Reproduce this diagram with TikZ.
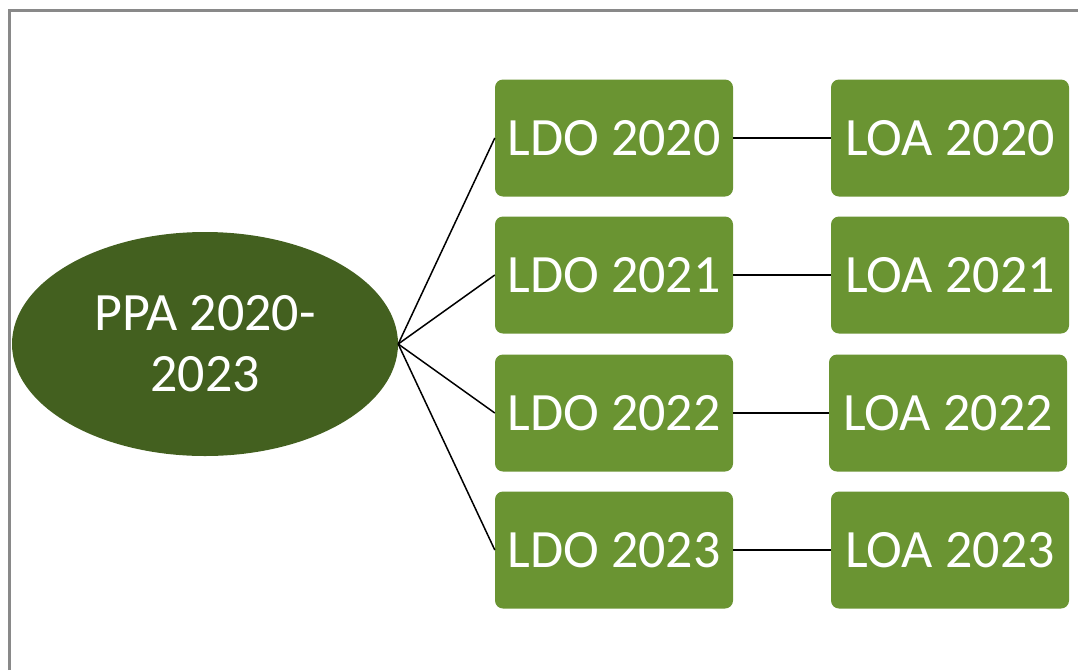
\documentclass[tikz,border=0pt]{standalone}
\usepackage{fontspec}
\setmainfont{Carlito}
\usetikzlibrary{shapes.geometric}

\definecolor{boxgreen}{HTML}{6A9432}
\definecolor{hubgreen}{HTML}{43601F}
\definecolor{framegray}{HTML}{898989}

\begin{document}
\begin{tikzpicture}[x=1pt, y=-1pt,
    year/.style={fill=boxgreen, rounded corners=8pt, minimum width=238pt, minimum height=117pt,
        inner sep=0pt, text=white, font=\fontsize{54}{61}\selectfont},
    hub/.style={ellipse, fill=hubgreen, minimum width=386pt, minimum height=224pt,
        inner sep=0pt, align=center, text=white, font=\fontsize{54}{61}\selectfont},
    link/.style={black, line width=1.5pt}]
    \useasboundingbox (0,0) rectangle (1078,670);

    % ===== frame =====
    \draw[framegray, line width=3pt] (9.5,670) -- (9.5,10.5) -- (1078,10.5);

    % ===== plan =====
    \node[hub] (ppa) at (205,344) {PPA 2020-\\2023};

    % ===== LDO column =====
    \def\xL{614}
    \node[year] (ldo20) at (\xL,138) {LDO 2020};
    \node[year] (ldo21) at (\xL,275) {LDO 2021};
    \node[year] (ldo22) at (\xL,413) {LDO 2022};
    \node[year] (ldo23) at (\xL,550) {LDO 2023};

    % ===== LOA column =====
    \def\xR{950}
    \node[year] (loa20) at (\xR,138) {LOA 2020};
    \node[year] (loa21) at (\xR,275) {LOA 2021};
    \node[year] (loa22) at (\xR-2,413) {LOA 2022};
    \node[year] (loa23) at (\xR,550) {LOA 2023};

    % ===== links =====
    \draw[link] (ppa.east) -- (ldo20.west);
    \draw[link] (ppa.east) -- (ldo21.west);
    \draw[link] (ppa.east) -- (ldo22.west);
    \draw[link] (ppa.east) -- (ldo23.west);

    \draw[link] (ldo20) -- (loa20);
    \draw[link] (ldo21) -- (loa21);
    \draw[link] (ldo22) -- (loa22);
    \draw[link] (ldo23) -- (loa23);
\end{tikzpicture}
\end{document}
